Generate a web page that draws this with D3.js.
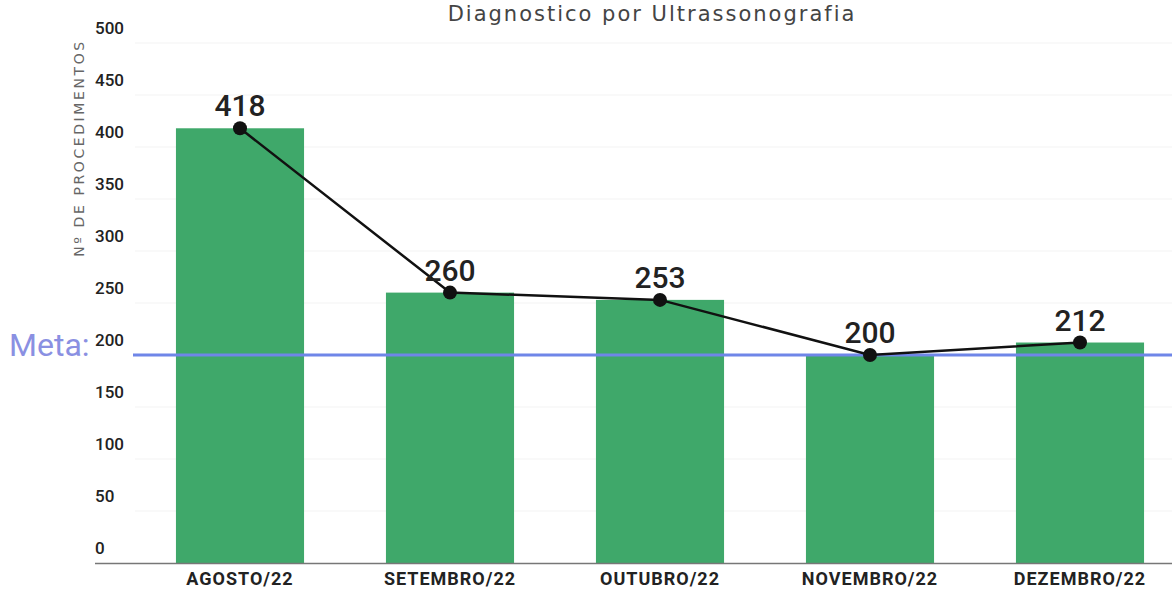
<!DOCTYPE html>
<meta charset="utf-8">
<style>
body { margin: 0; background: #fff; }
svg { display: block; }
.tick-label { font: 500 17px Roboto, sans-serif; fill: #222; }
.month { font: bold 18px Roboto, sans-serif; fill: #222; text-anchor: middle; letter-spacing: 1px; }
.value { font: 500 30px Roboto, sans-serif; fill: #222; text-anchor: middle; }
</style>
<svg width="1172" height="592"></svg>
<script src="https://d3js.org/d3.v7.min.js"></script>
<script>

// data //
var months = ["AGOSTO/22", "SETEMBRO/22", "OUTUBRO/22", "NOVEMBRO/22", "DEZEMBRO/22"];
var procedimentos = [418, 260, 253, 200, 212];
var yTicks = [0, 50, 100, 150, 200, 250, 300, 350, 400, 450, 500];
var meta = 200;

var svg = d3.select("svg"),
    width = +svg.attr("width"),
    height = +svg.attr("height");

var x = d3.scaleBand()
    .domain(months)
    .range([135, 1185])
    .paddingInner(0.39)
    .paddingOuter(0.195);

var y = d3.scaleLinear()
    .domain([0, 500])
    .range([563, 43]);

// title //
svg.append("text")
    .attr("x", 652)
    .attr("y", 21)
    .attr("text-anchor", "middle")
    .style("font", "21px 'DejaVu Sans', sans-serif")
    .style("letter-spacing", "2px")
    .style("fill", "#444")
    .text("Diagnostico por Ultrassonografia");

// y axis title //
svg.append("text")
    .attr("transform", "translate(84,148) rotate(-90)")
    .attr("text-anchor", "middle")
    .style("font", "14px 'DejaVu Sans', sans-serif")
    .style("letter-spacing", "2.6px")
    .style("fill", "#666")
    .text("Nº DE PROCEDIMENTOS");

// grid //
svg.append("g").selectAll("line")
    .data(yTicks.slice(1))
    .enter().append("line")
    .attr("x1", 135).attr("x2", width)
    .attr("y1", function(d) { return y(d); })
    .attr("y2", function(d) { return y(d); })
    .style("stroke", "#f3f3f3");

// tick labels sit above their grid lines //
svg.append("g").selectAll("text")
    .data(yTicks)
    .enter().append("text")
    .attr("class", "tick-label")
    .attr("x", 95)
    .attr("y", function(d) { return y(d) - 9; })
    .text(function(d) { return d; });

// bars //
svg.append("g").selectAll("rect")
    .data(procedimentos)
    .enter().append("rect")
    .attr("x", function(d, i) { return x(months[i]); })
    .attr("width", x.bandwidth())
    .attr("y", function(d) { return y(d); })
    .attr("height", function(d) { return y(0) - y(d); })
    .style("fill", "#3fa86a");

// x axis line //
svg.append("line")
    .attr("x1", 95).attr("x2", width)
    .attr("y1", y(0) + 0.5).attr("y2", y(0) + 0.5)
    .style("stroke", "#777")
    .style("stroke-width", 1.5);

svg.append("g").selectAll("text")
    .data(months)
    .enter().append("text")
    .attr("class", "month")
    .attr("x", function(d) { return x(d) + x.bandwidth() / 2; })
    .attr("y", 585)
    .text(function(d) { return d; });

// meta line //
svg.append("line")
    .attr("x1", 133).attr("x2", width)
    .attr("y1", y(meta)).attr("y2", y(meta))
    .style("stroke", "#6f86e8")
    .style("stroke-width", 3);

svg.append("text")
    .attr("x", 9)
    .attr("y", y(meta) + 1)
    .style("font", "32px Roboto, sans-serif")
    .style("fill", "#8a90e2")
    .text("Meta:");

// line + points //
var line = d3.line()
    .x(function(d, i) { return x(months[i]) + x.bandwidth() / 2; })
    .y(function(d) { return y(d); });

svg.append("path")
    .datum(procedimentos)
    .attr("d", line)
    .style("fill", "none")
    .style("stroke", "#111")
    .style("stroke-width", 2.5);

svg.append("g").selectAll("circle")
    .data(procedimentos)
    .enter().append("circle")
    .attr("cx", function(d, i) { return x(months[i]) + x.bandwidth() / 2; })
    .attr("cy", function(d) { return y(d); })
    .attr("r", 7)
    .style("fill", "#111");

svg.append("g").selectAll("text")
    .data(procedimentos)
    .enter().append("text")
    .attr("class", "value")
    .attr("x", function(d, i) { return x(months[i]) + x.bandwidth() / 2; })
    .attr("y", function(d) { return y(d) - 12; })
    .text(function(d) { return d; });

</script>
